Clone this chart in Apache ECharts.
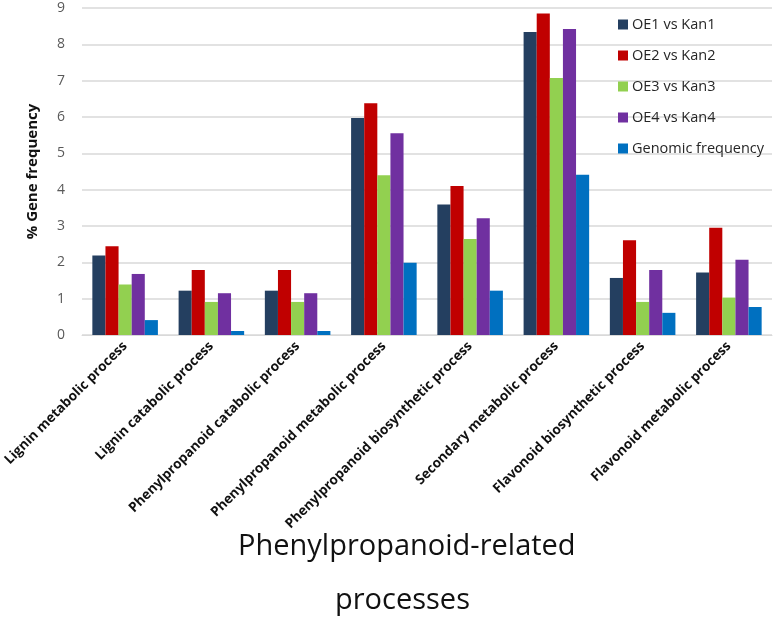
<!DOCTYPE html>
<html><head><meta charset="utf-8">
<script src="https://cdn.jsdelivr.net/npm/echarts@6/dist/echarts.min.js"></script>
<style>html,body{margin:0;padding:0;background:#fff}#c{width:778px;height:630px}</style>
</head><body><div id="c"></div>
<script>
var categories = ["Lignin metabolic process","Lignin catabolic process","Phenylpropanoid catabolic process","Phenylpropanoid metabolic process","Phenylpropanoid biosynthetic process","Secondary metabolic process","Flavonoid biosynthetic process","Flavonoid metabolic process"];
var seriesNames = ["OE1 vs Kan1","OE2 vs Kan2","OE3 vs Kan3","OE4 vs Kan4","Genomic frequency"];
var oe1 = [2.19, 1.22, 1.22, 5.97, 3.59, 8.34, 1.57, 1.72];
var oe2 = [2.44, 1.79, 1.79, 6.38, 4.10, 8.85, 2.61, 2.95];
var oe3 = [1.39, 0.91, 0.91, 4.40, 2.64, 7.07, 0.91, 1.03];
var oe4 = [1.68, 1.15, 1.15, 5.55, 3.21, 8.42, 1.79, 2.07];
var genomic = [0.41, 0.11, 0.11, 1.99, 1.22, 4.41, 0.61, 0.77];
var yTicks = [0,1,2,3,4,5,6,7,8,9];
var colors = ["#243f60","#c00000","#92d050","#7030a0","#0070c0"];
var values = [oe1, oe2, oe3, oe4, genomic];

var chart = echarts.init(document.getElementById('c'));
chart.setOption({
  animation:false,
  color: colors,
  grid:{left:82,right:6,top:8,bottom:295,containLabel:false},
  legend:{
    orient:'vertical', left:613, top:12, itemGap:16, itemWidth:10, itemHeight:10, icon:'rect',
    textStyle:{fontFamily:'Open Sans', fontSize:14.5, color:'#262626', padding:[0,0,0,-1]},
    data: seriesNames
  },
  xAxis:{
    type:'category', data:categories,
    axisLine:{lineStyle:{color:'#d9d9d9'}}, axisTick:{show:false},
    axisLabel:{rotate:45, interval:0, margin:9, fontFamily:'Open Sans', fontWeight:'bold', fontSize:13.5, color:'#111'}
  },
  yAxis:{
    type:'value', min:yTicks[0], max:yTicks[yTicks.length-1], interval:1,
    name:'% Gene frequency', nameLocation:'middle', nameGap:42, nameRotate:90,
    nameTextStyle:{fontFamily:'Open Sans', fontWeight:'bold', fontSize:15, color:'#111'},
    axisLine:{show:false}, axisTick:{show:false},
    axisLabel:{margin:17, fontFamily:'Open Sans', fontSize:14, color:'#595959'},
    splitLine:{lineStyle:{color:'#d9d9d9', width:1.5}}
  },
  graphic:[{type:'text', left:238, top:532, style:{text:'Phenylpropanoid-related', fontFamily:'Open Sans', fontSize:29, fill:'#111'}},
           {type:'text', left:335, top:586, style:{text:'processes', fontFamily:'Open Sans', fontSize:29, fill:'#111'}}],
  series: seriesNames.map(function(n,i){
    return {name:n, type:'bar', data:values[i], barGap:'0%', barCategoryGap:'24%'};
  })
});
</script></body></html>
